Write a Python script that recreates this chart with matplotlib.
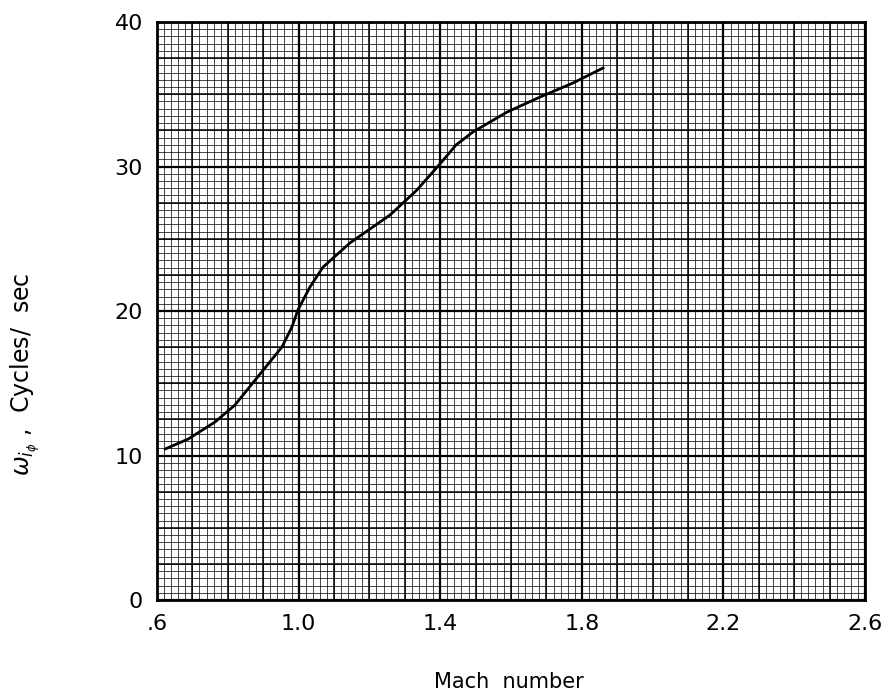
import numpy as np
import matplotlib
matplotlib.use("Agg")
import matplotlib.pyplot as plt

# frequency vs Mach number
mach = [0.623, 0.688, 0.764, 0.820, 0.905, 0.953, 0.981, 0.998, 1.032, 1.069,
        1.145, 1.258, 1.334, 1.399, 1.445, 1.493, 1.589, 1.682, 1.775, 1.860]
freq = [10.45, 11.14, 12.32, 13.49, 16.06, 17.51, 18.89, 20.07, 21.66, 23.04,
        24.71, 26.64, 28.37, 30.17, 31.50, 32.40, 33.77, 34.81, 35.78, 36.82]

xticks = [0.6, 1.0, 1.4, 1.8, 2.2, 2.6]
xticklabels = ['.6', '1.0', '1.4', '1.8', '2.2', '2.6']
yticks = [0, 10, 20, 30, 40]

fig = plt.figure(figsize=(8.93, 6.99), dpi=100)
ax = fig.add_axes([0.1758, 0.1416, 0.7929, 0.8269])
ax.set_xlim(0.6, 2.6)
ax.set_ylim(0, 40)

# graph paper: fine, medium (every 5 squares) and heavy (major ticks)
for x in np.arange(0.6, 2.6001, 0.02):
    ax.axvline(x, color='black', lw=0.6, alpha=0.85, zorder=1)
for y in np.arange(0, 40.001, 0.5):
    ax.axhline(y, color='black', lw=0.6, alpha=0.85, zorder=1)
for x in np.arange(0.6, 2.6001, 0.1):
    ax.axvline(x, color='black', lw=1.1, zorder=1)
for y in np.arange(0, 40.001, 2.5):
    ax.axhline(y, color='black', lw=1.1, zorder=1)
for x in xticks:
    ax.axvline(x, color='black', lw=1.6, zorder=1)
for y in yticks:
    ax.axhline(y, color='black', lw=1.6, zorder=1)

ax.plot(mach, freq, color='black', lw=2.0, zorder=3)

for s in ax.spines.values():
    s.set_linewidth(2.0)

ax.set_xticks(xticks)
ax.set_xticklabels(xticklabels)
ax.set_yticks(yticks)
ax.tick_params(length=0, labelsize=16, pad=10)

ax.set_xlabel('Mach  number', fontsize=15)
ax.xaxis.set_label_coords(0.497, -0.125)
ax.set_ylabel(r'$\omega_{i_{\phi}}$ ,  Cycles/  sec', fontsize=17)
ax.yaxis.set_label_coords(-0.163, 0.39)

fig.savefig('out.png', dpi=100)
